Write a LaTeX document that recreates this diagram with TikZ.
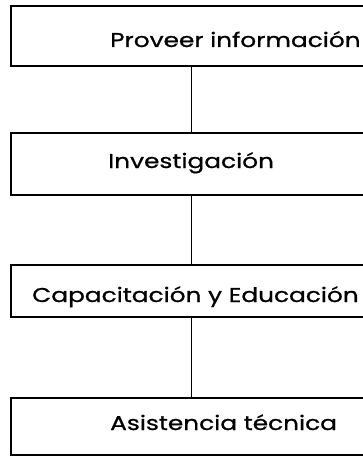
\documentclass[tikz,border=0pt]{standalone}
\usepackage{fontspec}
\setmainfont{Poppins}[FakeStretch=1.24,FakeBold=0.8]
\usetikzlibrary{arrows,shapes}
\tikzstyle{caja}=[draw,line width=1.8pt,minimum width=361pt,inner sep=0pt]
\tikzstyle{texto}=[anchor=base west,inner sep=0pt,font=\fontsize{20}{24}\selectfont]
\tikzstyle{edge}=[draw,line width=1.8pt,-]

\begin{document}
\begin{tikzpicture}[x=1pt,y=-1pt]
    \useasboundingbox (0,0) rectangle (363,457);
    \clip (0,0) rectangle (363,457);
    % Draw the four boxes, the right side runs off the page
    \foreach \pos/\alto/\name in {{(191.5,36)/60/prov},{(191.5,164)/62/inv},{(191.5,291)/52/cap},{(191.5,426.5)/57/asis}}
        \node[caja,minimum height=\alto pt] (\name) at \pos {};

    % Then the texts inside them
    \foreach \pos/\name/\txt in {{(110,47)/tprov/Proveer información},{(108,168)/tinv/Investigación},{(32,302)/tcap/Capacitación y Educación},{(110,430)/tasis/Asistencia técnica}}
        \node[texto] (\name) at \pos {\txt};

    % Connect boxes with lines
    \foreach \source/ \dest in {prov/inv, inv/cap, cap/asis}
        \path[edge] (\source) -- (\dest) ;
\end{tikzpicture}
\end{document}
